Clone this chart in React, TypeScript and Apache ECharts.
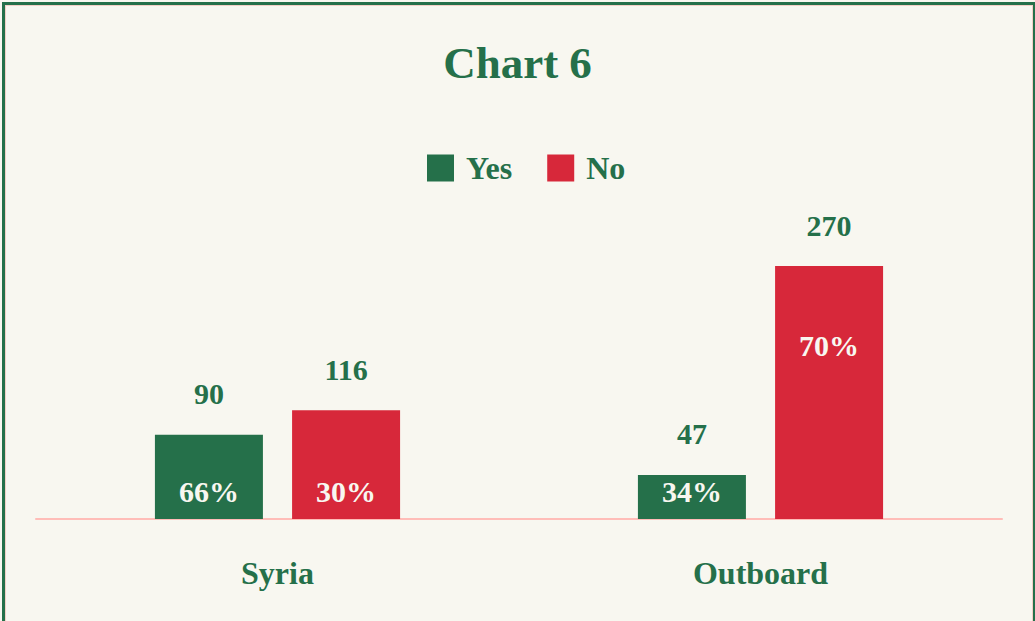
import React, { useEffect, useRef } from "react";
import * as echarts from "echarts";

const categories = ["Syria", "Outboard"];
const yesValues = [90, 47];
const noValues = [116, 270];
const yesShares = ["66%", "34%"];
const noShares = ["30%", "70%"];

const GREEN = "#25704a";
const RED = "#d7283a";
const CREAM = "#f8f7f0";
const FONT = "'Liberation Serif', 'DejaVu Serif', serif";

export default function App() {
  const ref = useRef<HTMLDivElement>(null);
  useEffect(() => {
    if (!ref.current) return;
    const chart = echarts.init(ref.current, null, { renderer: "svg" });
    const shareLabel = (tallIndex: number[], i: number) =>
      tallIndex.includes(i)
        ? { position: "insideTop", distance: 64 }
        : { position: "insideBottom", distance: 13 };
    const mkMain = (name: string, values: number[], shares: string[], color: string, stack: string, tall: number[]) => ({
      name,
      type: "bar",
      stack,
      barWidth: 108,
      barGap: "27%",
      itemStyle: { color },
      data: values.map((v, i) => ({
        value: v,
        label: shareLabel(tall, i),
      })),
      label: {
        show: true,
        formatter: (p: any) => shares[p.dataIndex],
        color: CREAM,
        fontFamily: FONT,
        fontWeight: "bold",
        fontSize: 30,
      },
    });
    const mkCap = (values: number[], stack: string) => ({
      name: stack + "cap",
      type: "bar",
      stack,
      barWidth: 108,
      barGap: "27%",
      itemStyle: { color: "transparent" },
      data: values.map(() => 0),
      label: {
        show: true,
        position: "top",
        distance: 26,
        formatter: (p: any) => String(values[p.dataIndex]),
        color: GREEN,
        fontFamily: FONT,
        fontWeight: "bold",
        fontSize: 30,
      },
    });
    chart.setOption({
      animation: false,
      backgroundColor: CREAM,
      title: {
        text: "Chart 6",
        left: "center",
        top: 35,
        textStyle: { color: GREEN, fontFamily: FONT, fontWeight: "bold", fontSize: 45 },
      },
      legend: {
        data: ["Yes", "No"],
        left: 422,
        top: 147,
        itemWidth: 27,
        itemHeight: 27,
        itemGap: 35,
        icon: "rect",
        textStyle: {
          color: GREEN,
          fontFamily: FONT,
          fontWeight: "bold",
          fontSize: 32,
          padding: [0, 0, 8, 7],
        },
      },
      grid: { left: 36, right: 33, top: 238, bottom: 102, containLabel: false },
      xAxis: {
        type: "category",
        data: categories,
        axisLine: { lineStyle: { color: "#ffbdb8", width: 2 } },
        axisTick: { show: false },
        axisLabel: {
          color: GREEN,
          fontFamily: FONT,
          fontWeight: "bold",
          fontSize: 32,
          margin: 38,
        },
      },
      yAxis: { type: "value", min: 0, max: 300, show: false, splitLine: { show: false } },
      series: [
        mkMain("Yes", yesValues, yesShares, GREEN, "yes", []),
        mkCap(yesValues, "yes"),
        mkMain("No", noValues, noShares, RED, "no", [1]),
        mkCap(noValues, "no"),
      ],
    });
    return () => chart.dispose();
  }, []);
  return (
    <div style={{ position: "fixed", left: 0, top: 0, width: 1035, height: 621, overflow: "hidden" }}>
      <div ref={ref} style={{ position: "absolute", left: 0, top: 0, width: 1035, height: 621 }} />
      <div
        style={{
          position: "absolute",
          left: 2,
          top: 2,
          width: 1034,
          height: 700,
          boxSizing: "border-box",
          border: "3px solid #25704a",
          boxShadow: "inset 0 0 0 1px #f3cfc6",
          pointerEvents: "none",
        }}
      />
    </div>
  );
}
